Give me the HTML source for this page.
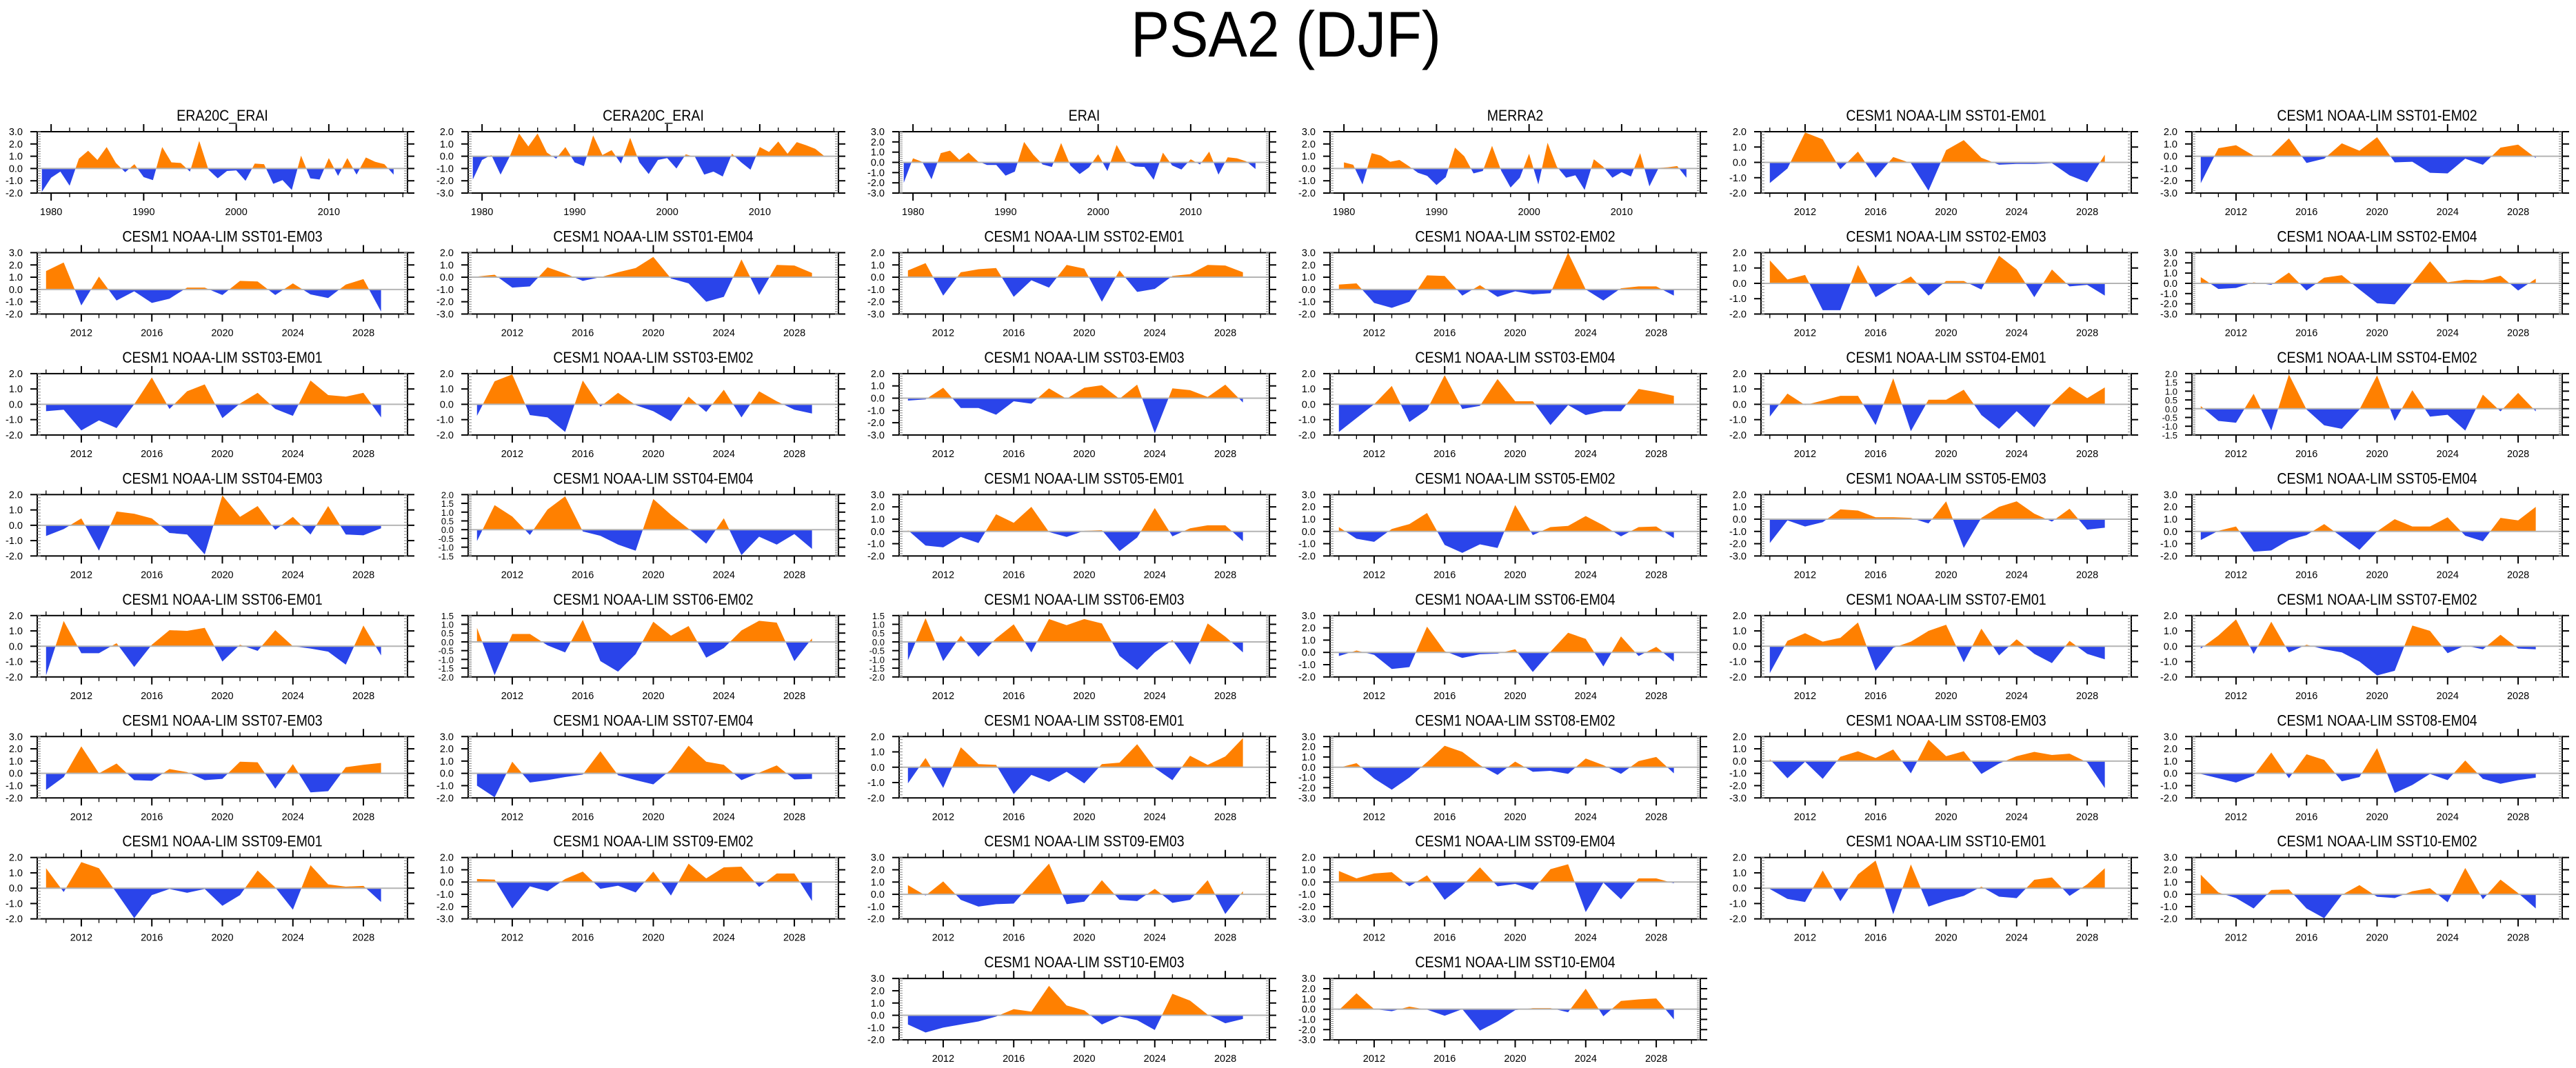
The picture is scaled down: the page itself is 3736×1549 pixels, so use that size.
<!DOCTYPE html>
<html><head><meta charset="utf-8"><style>
html,body{margin:0;padding:0;background:#fff;}
svg{display:block;font-family:"Liberation Sans",Arial,sans-serif;}
</style></head><body>
<svg id="fig" width="3736" height="1549" viewBox="0 0 3736 1549" xmlns="http://www.w3.org/2000/svg">
<rect width="3736" height="1549" fill="#fff"/>
<text x="1865" y="82" font-size="94" text-anchor="middle" textLength="450" lengthAdjust="spacingAndGlyphs">PSA2 (DJF)</text>
</svg>
<script>
const titles = ["ERA20C_ERAI","CERA20C_ERAI","ERAI","MERRA2","CESM1 NOAA-LIM SST01-EM01","CESM1 NOAA-LIM SST01-EM02",
"CESM1 NOAA-LIM SST01-EM03","CESM1 NOAA-LIM SST01-EM04","CESM1 NOAA-LIM SST02-EM01","CESM1 NOAA-LIM SST02-EM02","CESM1 NOAA-LIM SST02-EM03","CESM1 NOAA-LIM SST02-EM04",
"CESM1 NOAA-LIM SST03-EM01","CESM1 NOAA-LIM SST03-EM02","CESM1 NOAA-LIM SST03-EM03","CESM1 NOAA-LIM SST03-EM04","CESM1 NOAA-LIM SST04-EM01","CESM1 NOAA-LIM SST04-EM02",
"CESM1 NOAA-LIM SST04-EM03","CESM1 NOAA-LIM SST04-EM04","CESM1 NOAA-LIM SST05-EM01","CESM1 NOAA-LIM SST05-EM02","CESM1 NOAA-LIM SST05-EM03","CESM1 NOAA-LIM SST05-EM04",
"CESM1 NOAA-LIM SST06-EM01","CESM1 NOAA-LIM SST06-EM02","CESM1 NOAA-LIM SST06-EM03","CESM1 NOAA-LIM SST06-EM04","CESM1 NOAA-LIM SST07-EM01","CESM1 NOAA-LIM SST07-EM02",
"CESM1 NOAA-LIM SST07-EM03","CESM1 NOAA-LIM SST07-EM04","CESM1 NOAA-LIM SST08-EM01","CESM1 NOAA-LIM SST08-EM02","CESM1 NOAA-LIM SST08-EM03","CESM1 NOAA-LIM SST08-EM04",
"CESM1 NOAA-LIM SST09-EM01","CESM1 NOAA-LIM SST09-EM02","CESM1 NOAA-LIM SST09-EM03","CESM1 NOAA-LIM SST09-EM04","CESM1 NOAA-LIM SST10-EM01","CESM1 NOAA-LIM SST10-EM02",
"CESM1 NOAA-LIM SST10-EM03","CESM1 NOAA-LIM SST10-EM04"];
const startYears = [1979,1979,1979,1980,2010,2010, 2010,2010,2010,2010,2010,2010, 2010,2010,2010,2010,2010,2010, 2010,2010,2010,2010,2010,2010, 2010,2010,2010,2010,2010,2010, 2010,2010,2010,2010,2010,2010, 2010,2010,2010,2010,2010,2010, 2010,2010];
const yMins = [-2,-3,-3,-2,-2,-3, -2,-3,-3,-2,-2,-3, -2,-2,-3,-2,-2,-1.5, -2,-1.5,-2,-2,-3,-2, -2,-2,-2,-2,-2,-2, -2,-2,-2,-3,-3,-2, -2,-3,-2,-3,-2,-2, -2,-3];
const yMaxs = [3,2,3,3,2,2, 3,2,2,3,2,3, 2,2,2,2,2,2, 2,2,3,3,2,3, 2,1.5,1.5,3,2,2, 3,3,2,3,2,3, 2,2,3,2,2,3, 3,3];
const yTickLabels1 = ["-3.0","-2.0","-1.0","0.0","1.0","2.0","3.0"];
const values = [
[-1.9,-0.75,-0.25,-1.4,0.8,1.45,0.7,1.75,0.45,-0.3,0.35,-0.7,-0.95,1.75,0.5,0.45,-0.25,2.25,-0.1,-0.8,-0.2,-0.15,-1.0,0.4,0.35,-1.25,-0.95,-1.75,1.05,-0.8,-0.9,0.85,-0.6,0.85,-0.5,0.9,0.55,0.35,-0.5],
[-1.9,-0.3,0.1,-1.5,0.0,1.85,0.8,1.85,0.3,-0.2,0.75,-0.5,-0.8,1.7,0.1,0.5,-0.6,1.5,-0.5,-1.45,-0.3,-0.15,-1.0,0.15,-0.05,-1.5,-1.25,-1.65,0.2,-0.5,-1.1,0.75,0.35,1.2,0.2,1.15,0.9,0.6,0.0],
[-2.0,0.4,0.05,-1.65,0.9,1.15,0.25,0.95,0.1,-0.25,-0.25,-1.3,-0.9,2.0,0.75,-0.2,-0.45,1.9,-0.3,-1.15,-0.5,0.8,-0.85,1.7,0.1,-0.4,-0.45,-1.7,0.95,-0.3,-0.7,0.3,-0.2,1.05,-1.2,0.5,0.4,0.1,-0.65],
[0.5,0.3,-1.3,1.25,1.05,0.55,0.7,0.2,-0.35,-0.6,-1.35,-0.7,1.7,1.0,-0.4,-0.2,1.85,-0.2,-1.55,-0.75,1.2,-1.3,2.1,0.15,-0.75,-0.55,-1.75,0.75,0.15,-0.75,-0.3,-0.65,1.25,-1.45,0.05,0.1,0.2,-0.75],
[-1.35,-0.4,1.95,1.5,-0.45,0.7,-1.0,0.35,-0.05,-1.85,0.8,1.45,0.3,-0.15,-0.1,-0.1,-0.05,-0.85,-1.3,0.5],
[-2.2,0.65,0.9,0.05,0.05,1.45,-0.55,-0.2,1.05,0.45,1.55,-0.5,-0.45,-1.35,-1.4,-0.2,-0.7,0.7,0.95,-0.15],
[1.5,2.2,-1.3,1.05,-0.9,-0.15,-1.1,-0.75,0.15,0.15,-0.45,0.7,0.65,-0.45,0.5,-0.4,-0.7,0.4,0.85,-1.8],
[0.05,0.2,-0.85,-0.75,0.8,0.3,-0.3,0.0,0.4,0.75,1.65,-0.1,-0.5,-2.0,-1.6,1.45,-1.45,1.0,0.95,0.35],
[0.55,1.15,-1.5,0.4,0.65,0.75,-1.6,-0.25,-0.85,1.0,0.7,-2.0,0.55,-1.2,-0.95,0.1,0.25,1.0,0.95,0.4],
[0.4,0.5,-1.1,-1.5,-1.0,1.15,1.1,-0.5,0.35,-0.6,-0.15,-0.4,-0.3,3.0,0.0,-0.9,0.1,0.25,0.25,-0.5],
[1.5,0.25,0.55,-1.75,-1.75,1.2,-0.9,-0.2,0.45,-0.8,0.15,0.15,-0.4,1.8,0.9,-0.9,0.9,-0.2,-0.1,-0.8],
[0.6,-0.55,-0.45,0.1,-0.15,1.05,-0.7,0.55,0.8,-0.6,-1.95,-2.05,0.0,2.15,0.1,0.35,0.3,0.75,-0.7,0.45],
[-0.45,-0.35,-1.7,-1.05,-1.55,0.0,1.75,-0.3,0.85,1.3,-0.9,0.05,0.75,-0.3,-0.75,1.55,0.6,0.5,0.75,-0.85],
[-0.75,1.5,1.95,-0.7,-0.85,-1.8,1.55,-0.15,0.75,-0.05,-0.45,-1.1,0.5,-0.5,0.95,-0.85,0.85,0.2,-0.35,-0.6],
[-0.2,-0.1,0.85,-0.8,-0.8,-1.35,-0.25,-0.45,0.8,-0.05,0.85,1.05,-0.05,1.1,-2.85,0.8,0.65,0.1,1.1,-0.35],
[-1.8,-0.9,0.0,1.2,-1.15,-0.35,1.9,-0.3,-0.1,1.65,0.2,0.2,-1.35,-0.05,-0.7,-0.45,-0.45,1.0,0.8,0.55],
[-0.8,0.7,-0.05,0.25,0.55,0.55,-1.35,1.7,-1.75,0.3,0.3,0.95,-0.7,-1.6,-0.45,-1.5,0.05,1.15,0.4,1.1],
[0.15,-0.7,-0.8,0.85,-1.25,1.95,-0.05,-0.95,-1.15,-0.05,1.9,-0.7,1.05,-0.45,-0.35,-1.25,0.8,-0.15,0.9,-0.15],
[-0.7,-0.25,0.45,-1.65,0.9,0.75,0.45,-0.5,-0.6,-1.9,1.95,0.55,1.25,-0.3,0.55,-0.6,1.25,-0.6,-0.65,-0.2],
[-0.65,1.4,0.75,-0.3,1.15,1.9,-0.1,-0.35,-0.85,-1.2,1.75,0.85,0.05,-0.8,0.65,-1.45,-0.4,-0.85,-0.25,-1.1],
[0.1,-1.15,-1.3,-0.45,-0.95,1.4,0.7,2.0,-0.05,-0.45,0.05,0.1,-1.6,-0.5,1.9,-0.4,0.25,0.5,0.5,-0.8],
[0.35,-0.6,-0.85,0.2,0.6,1.5,-1.1,-1.75,-1.05,-1.35,2.15,-0.3,0.35,0.45,1.25,0.5,-0.4,0.35,0.4,-0.55],
[-1.95,-0.1,-0.6,-0.25,0.8,0.7,0.15,0.15,0.1,-0.35,1.45,-2.35,0.1,1.0,1.45,0.45,-0.2,0.85,-0.85,-0.7],
[-0.7,0.05,0.4,-1.65,-1.55,-0.7,-0.3,0.6,-0.45,-1.5,0.0,1.0,0.4,0.4,1.15,-0.35,-0.8,1.1,0.9,2.0],
[-1.9,1.65,-0.45,-0.45,0.2,-1.35,0.1,1.05,1.0,1.2,-1.0,0.1,-0.3,1.05,0.0,-0.15,-0.35,-1.2,1.35,-0.6],
[0.8,-1.9,0.45,0.45,-0.2,-0.6,1.25,-1.1,-1.7,-0.7,1.15,0.35,0.9,-0.9,-0.35,0.65,1.2,1.1,-1.1,0.2],
[-1.05,1.35,-1.1,0.35,-0.85,0.2,1.0,-0.6,1.3,0.95,1.3,1.05,-0.8,-1.6,-0.6,0.1,-1.3,1.05,0.3,-0.6],
[-0.3,0.15,-0.2,-1.35,-1.2,2.1,0.1,-0.45,-0.15,-0.1,0.25,-1.6,0.05,1.6,1.1,-1.15,1.3,-0.3,0.45,-0.75],
[-1.75,0.35,0.85,0.3,0.55,1.55,-1.6,-0.1,0.3,1.0,1.4,-1.05,1.15,-0.6,0.45,-0.5,-1.1,0.35,-0.5,-0.85],
[-0.15,0.7,1.75,-0.5,1.6,-0.4,0.1,-0.2,-0.4,-1.0,-1.9,-1.6,1.35,1.0,-0.45,0.05,-0.2,0.75,-0.15,-0.2],
[-1.35,-0.3,2.2,0.0,0.8,-0.55,-0.6,0.35,0.1,-0.55,-0.45,0.95,0.9,-1.25,0.75,-1.55,-1.45,0.5,0.7,0.85],
[-1.0,-1.95,0.95,-0.75,-0.55,-0.3,-0.1,1.8,-0.15,-0.55,-0.9,0.3,2.25,0.95,0.7,-0.55,0.05,0.65,-0.5,-0.45],
[-1.05,0.6,-1.35,1.3,0.2,0.15,-1.75,-0.5,-0.95,-0.3,-1.05,0.2,0.3,1.5,-0.05,-0.85,0.75,0.15,0.7,1.9],
[-0.05,0.4,-1.1,-2.2,-1.0,0.5,2.1,1.5,0.2,-0.75,0.55,-0.45,-0.35,-0.65,0.85,0.2,-0.65,0.6,1.0,-0.6],
[0.15,-1.4,-0.05,-1.45,0.35,0.8,0.25,0.95,-1.0,1.75,0.4,0.8,-1.05,-0.2,0.4,0.75,0.5,0.6,-0.1,-2.2],
[-0.05,-0.4,-0.75,-0.2,1.7,-0.4,1.55,1.1,-0.65,-0.3,2.05,-1.6,-0.95,-0.05,-0.55,1.05,-0.45,-0.85,-0.55,-0.35],
[1.3,-0.25,1.7,1.3,-0.3,-1.95,-0.45,-0.05,-0.3,-0.05,-1.15,-0.45,1.15,0.05,-1.4,1.5,0.25,0.1,0.15,-0.9],
[0.25,0.2,-2.15,-0.35,-0.75,0.25,0.85,-0.55,-0.3,-0.85,0.85,-1.1,1.5,0.3,1.2,1.25,-0.4,0.7,0.7,-1.55],
[0.75,-0.1,1.05,-0.45,-1.0,-0.8,-0.75,0.9,2.5,-0.8,-0.6,1.15,-0.45,-0.55,0.45,-0.7,-0.45,1.15,-1.6,0.25],
[0.9,0.3,0.7,0.8,-0.35,0.55,-1.45,-0.3,1.2,-0.35,-0.15,-0.65,1.05,1.45,-2.45,-0.05,-1.4,0.3,0.3,-0.1],
[-0.05,-0.7,-0.9,1.15,-0.85,0.9,1.8,-1.7,1.55,-1.2,-0.8,-0.5,0.1,-0.55,-0.65,0.55,0.7,-0.5,0.25,1.3],
[1.6,0.15,-0.3,-1.15,0.35,0.4,-1.15,-1.95,-0.05,0.75,-0.2,-0.3,0.25,0.5,-0.65,2.15,-0.4,1.2,0.1,-1.15],
[-0.75,-1.4,-1.0,-0.75,-0.5,-0.1,0.5,0.3,2.4,0.8,0.4,-0.75,-0.1,-0.4,-1.2,1.75,1.2,0.05,-0.65,-0.3],
[-0.1,1.55,0.0,-0.2,0.25,-0.05,-0.65,0.0,-2.1,-1.2,-0.1,0.1,0.1,-0.3,2.0,-0.7,0.8,0.95,1.05,-1.0]
];

const NS = "http://www.w3.org/2000/svg";
const svg = document.getElementById("fig");
const BOX_W = 537, BOX_H = 89, COL_DX = 625, ROW_DY = 175.45, X0 = 54, Y0 = 191;
const ORANGE = "#ff8000", BLUE = "#2a44ea";
function mk(tag, attrs, parent){const e=document.createElementNS(NS,tag);for(const k in attrs)e.setAttribute(k,attrs[k]);(parent||svg).appendChild(e);return e;}
function fmt(v){return v.toFixed(1);}

for(let i=0;i<titles.length;i++){
  let row, col;
  if(i<42){row=Math.floor(i/6);col=i%6;}else{row=7;col=i-40;}
  const bx=X0+col*COL_DX, by=Y0+row*ROW_DY;
  const old=startYears[i]<2000;
  const xmin=old?1978.5:2009.5, xmax=old?2018.5:2030.5;
  const ymin=yMins[i], ymax=yMaxs[i];
  const xs=v=>bx+(v-xmin)/(xmax-xmin)*BOX_W;
  const ys=v=>by+BOX_H-(v-ymin)/(ymax-ymin)*BOX_H;
  const g=mk("g",{});
  
  
  const tg=mk("g",{transform:`translate(${bx+BOX_W/2},${by-16}) scale(0.89,1)`},g);
  const tt=mk("text",{x:0,y:0,"font-size":22,"text-anchor":"middle"},tg);
  tt.textContent=titles[i];
  
  
  const vals=values[i];
  const y0p=ys(0);
  let pts=`${xs(startYears[i])},${y0p} `;
  vals.forEach((v,k)=>{pts+=`${xs(startYears[i]+k)},${ys(v)} `;});
  pts+=`${xs(startYears[i]+vals.length-1)},${y0p}`;
  const cidU='cu'+i, cidD='cd'+i;
  const defs=mk("defs",{},g);
  const c1=mk("clipPath",{id:cidU},defs); mk("rect",{x:bx,y:by-5,width:BOX_W,height:y0p-by+5},c1);
  const c2=mk("clipPath",{id:cidD},defs); mk("rect",{x:bx,y:y0p,width:BOX_W,height:by+BOX_H-y0p+5},c2);
  const pu=mk("polygon",{points:pts,fill:ORANGE,"clip-path":`url(#${cidU})`},g);
  
  
  const pd=mk("polygon",{points:pts,fill:BLUE,"clip-path":`url(#${cidD})`},g);
  
  
  const zl=mk("line",{x1:bx,x2:bx+BOX_W,y1:y0p,y2:y0p,stroke:"#b4b4b4","stroke-width":2},g);
  
  
  const fr=mk("rect",{x:bx,y:by,width:BOX_W,height:BOX_H,fill:"none",stroke:"#000","stroke-width":2},g);
  
  
  const majStep=old?10:4, majStart=old?1980:2012;
  for(let yr=Math.ceil(xmin);yr<=xmax;yr+=1){
    if(old && yr%2!==0) continue;
    const x=xs(yr), major=((yr-majStart)%majStep===0);
    const L=major?11:6;
    mk("line",{x1:x,x2:x,y1:by+BOX_H,y2:by+BOX_H+L,stroke:"#000","stroke-width":major?2:1.3},g);
    mk("line",{x1:x,x2:x,y1:by,y2:by-L,stroke:"#000","stroke-width":major?2:1.3},g);
    if(major){
      const lt=mk("text",{x:x,y:by+BOX_H+32,"font-size":14.5,"text-anchor":"middle"},g);
      lt.textContent=String(yr);
      
      
    }
  }
  const step=(ymax-ymin)<=3.6?0.5:1.0;
  const minor=step/5;
  const nMin=Math.round((ymax-ymin)/minor);
  for(let k=0;k<=nMin;k++){
    const v=ymin+k*minor, y=ys(v);
    mk("line",{x1:bx,x2:bx+5,y1:y,y2:y,stroke:"#888","stroke-width":1},g);
    mk("line",{x1:bx+BOX_W,x2:bx+BOX_W-5,y1:y,y2:y,stroke:"#888","stroke-width":1},g);
  }
  const nMaj=Math.round((ymax-ymin)/step);
  for(let k=0;k<=nMaj;k++){
    const v=ymin+k*step, y=ys(v);
    mk("line",{x1:bx-10,x2:bx,y1:y,y2:y,stroke:"#000","stroke-width":2},g);
    mk("line",{x1:bx+BOX_W,x2:bx+BOX_W+10,y1:y,y2:y,stroke:"#000","stroke-width":2},g);
    const lab = step===1 ? yTickLabels1[Math.round(v)+3] : fmt(v);
    const yt=mk("text",{x:bx-21,y:y+5,"font-size":step===1?14.5:13,"text-anchor":"end"},g);
    yt.textContent=lab;
    
    
  }
}
</script>
</body></html>
